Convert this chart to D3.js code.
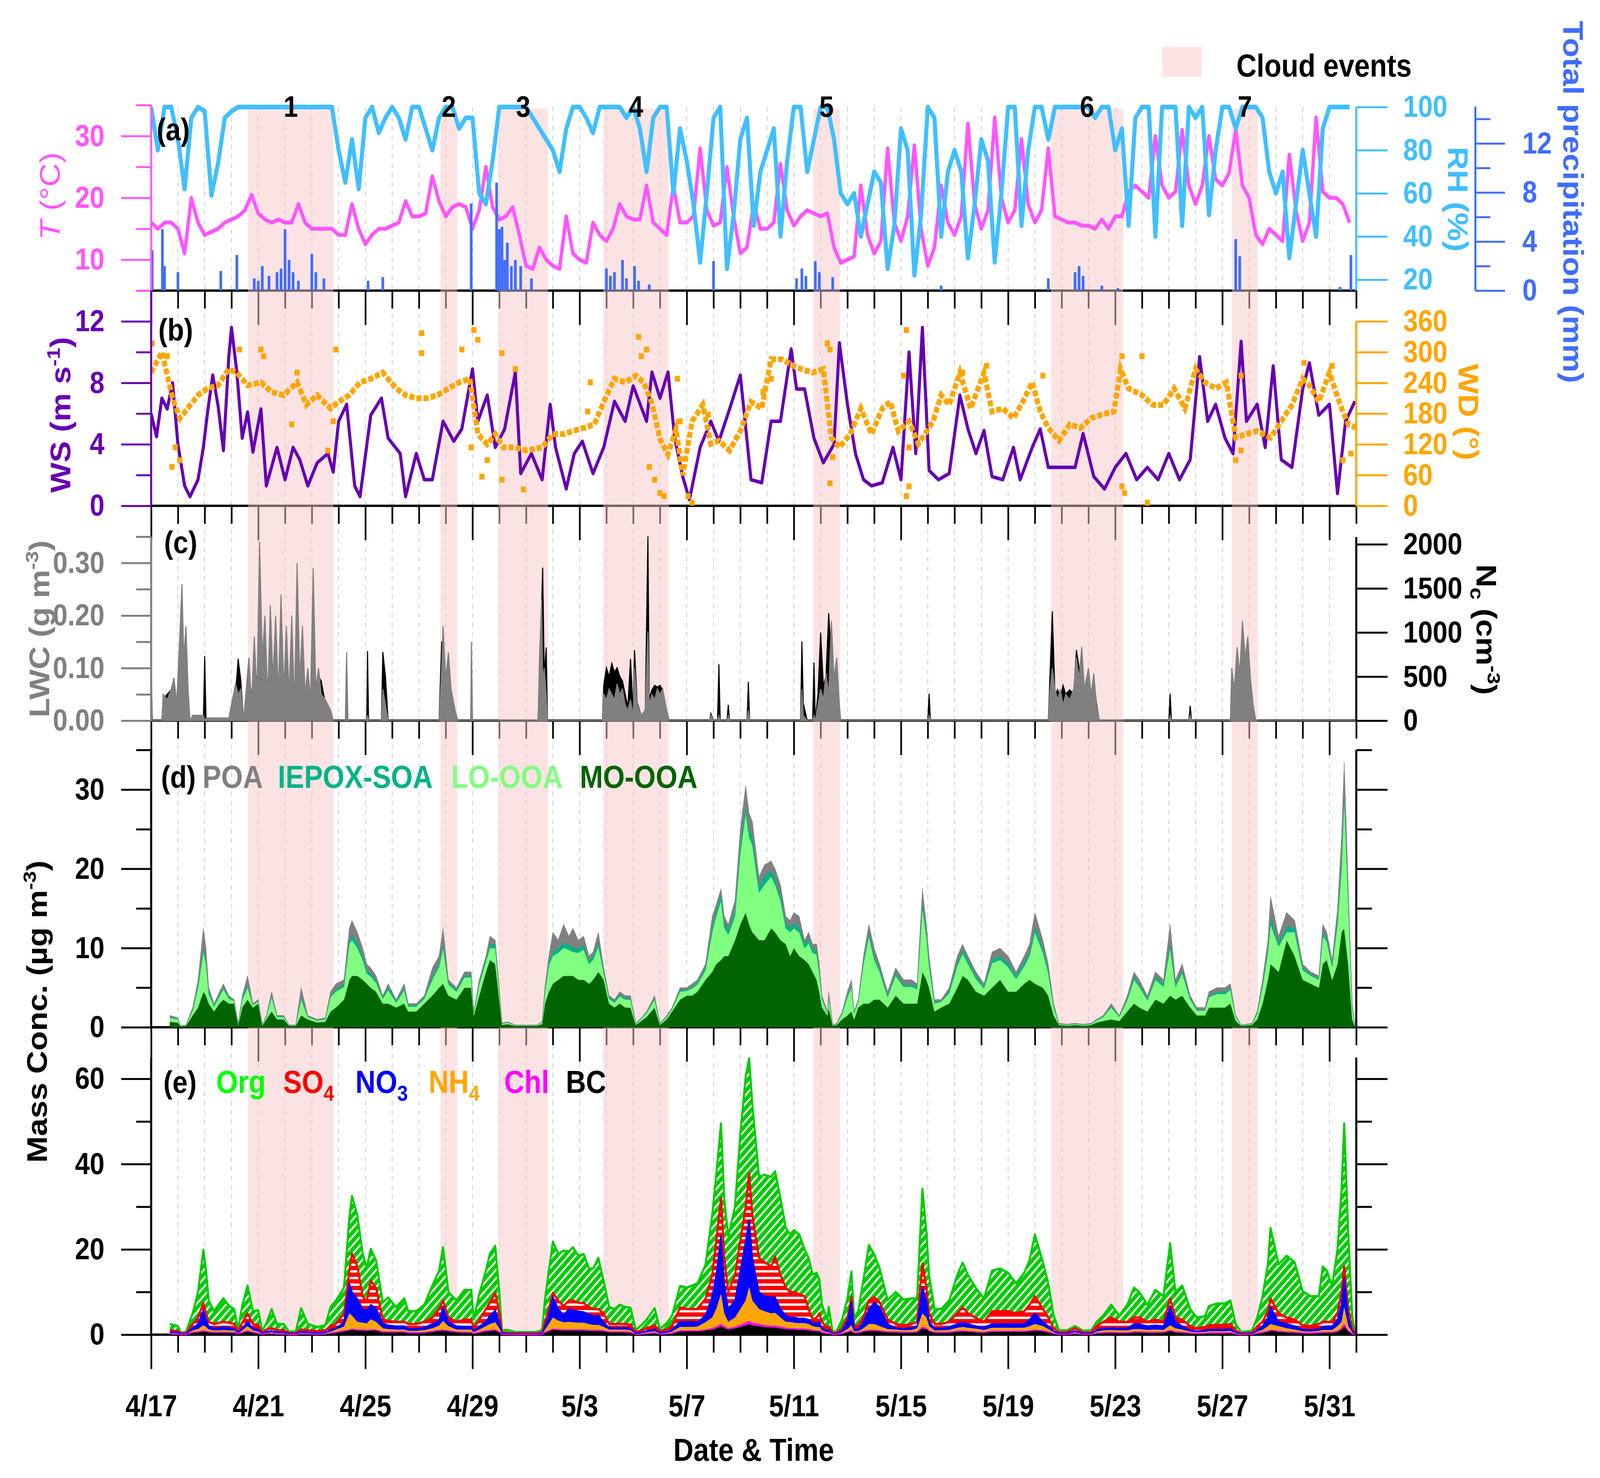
<!DOCTYPE html>
<html><head><meta charset="utf-8">
<script src="https://cdn.jsdelivr.net/npm/d3@7"></script>
<style>html,body{margin:0;padding:0;background:#fff;width:100%;height:100%;overflow:hidden} svg{display:block;width:100vw;height:100vh}</style>
</head><body><svg id="c" viewBox="0 0 4700 3784" preserveAspectRatio="none"></svg>
<script>
// ---------------- DATA ----------------
const dateLabels = ["4/17","4/21","4/25","4/29","5/3","5/7","5/11","5/15","5/19","5/23","5/27","5/31"];
const majorDays = [0,4,8,12,16,20,24,28,32,36,40,44];
const eventStart = [3.62,10.80,12.97,16.88,24.72,33.60,40.35];
const eventEnd   = [6.81,11.43,14.82,19.33,25.72,36.30,41.33];
const eventLabel = ["1","2","3","4","5","6","7"];

// panel a: 6-hourly temperature (°C) and RH (%)
const tempC = [
16,15,16,16, 15,11,20,16, 14,14.5,15,16, 16.5,17,18,20.5, 17.5,16.5,16,16.5,
16,16,19,16, 15,15,15,15, 14,14,19,15, 12.5,14,15,15, 15.5,16,19.5,17,
17,17.5,23.5,19.5, 17,18.5,19,18.5, 15,18,25,18.5, 16.5,17,18.5,14, 9,8.5,12,10,
9,8.5,17,11, 10,9.5,16,14, 13,15,19,17, 16.5,16.5,22,16, 15,14,22,16,
16,17,28,18, 15.5,16,25,17, 11,12,19,15, 15,16,25.5,18, 15.5,17,18,17.5,
17,17.5,12,9.5, 10,10.5,22,14, 11,13,28,16, 13,17,28.5,15, 9,12,22,16,
14,17,32,19, 15,18,33,20, 16,18,29.5,19, 16,18,28,17, 16.5,16,16,15.5,
15.5,15,16.5,15, 17,17,21,22, 21,20,30,22, 20,21,31,22, 19,22,30,23,
22,24,31,22, 20,14,12.5,15, 14,13,27,18, 13,16,33,21, 20,20,19,16];
const rhPct = [
100,80,100,100, 85,62,95,100, 98,59,74,95, 98,100,100,100, 100,100,100,100,
100,100,100,100, 100,100,100,100, 80,65,85,62, 95,100,88,95, 100,95,85,100,
100,90,80,95, 100,100,90,95, 95,60,55,75, 100,100,100,100, 100,95,90,85,
80,70,90,100, 100,95,88,100, 100,100,100,95, 100,90,70,95, 100,100,60,90,
75,55,28,60, 95,100,25,50, 85,95,45,70, 80,90,40,75, 100,100,70,85,
100,100,85,60, 55,60,40,55, 70,65,25,45, 90,80,22,50, 100,95,40,70,
80,70,30,55, 85,75,28,60, 100,100,45,80, 100,100,85,100, 100,100,100,100,
100,95,100,100, 80,90,45,95, 100,100,40,100, 100,100,45,100, 95,100,50,80,
100,100,90,100, 100,100,95,70, 60,70,30,55, 80,60,40,90, 100,100,100,100];
const precipDay = [0.04,0.42,0.5,1.0,2.6,3.2,3.85,4.0,4.15,4.4,4.7,4.85,5.0,5.15,5.3,5.5,6.0,6.15,6.45,8.1,8.65,11.95,12.9,13.0,13.1,13.2,13.3,13.45,13.6,13.8,14.2,17.0,17.15,17.3,17.6,17.75,18.05,18.2,18.6,21.0,24.1,24.3,24.45,24.8,24.95,25.45,29.5,33.5,34.5,34.65,34.8,35.5,36.1,40.5,40.65,44.4,44.8];
const precipMM  = [3.3,5.0,2,1.5,1.6,2.9,1,0.8,2,1.2,1.5,1.8,5.0,2.5,1.5,0.8,3,1.5,1,0.8,1.1,7.1,8.8,5,5.2,2.5,3.9,2,2.5,2,1,1.8,1.2,1.5,2.5,1,2,0.8,0.5,2.4,1,1.8,1.2,2.4,1.5,1.1,0.4,1,1.5,2,1.2,0.4,0.2,4.2,2.8,0.3,2.9];

// panel b: wind speed (m/s) and wind direction (deg)
const wsDay = [0,0.2,0.4,0.6,0.8,1.0,1.25,1.45,1.75,1.95,2.1,2.3,2.5,2.7,2.9,3.0,3.2,3.4,3.6,3.8,4.1,4.3,4.7,5.0,5.3,5.55,5.85,6.2,6.6,6.8,7.0,7.3,7.6,7.8,8.2,8.6,8.85,9.3,9.5,9.9,10.2,10.5,10.9,11.3,11.6,12.0,12.2,12.55,12.85,13.2,13.6,13.8,14.2,14.6,14.9,15.1,15.5,15.8,16.1,16.5,16.9,17.3,17.7,18.0,18.5,18.7,19.0,19.3,19.55,19.85,20.1,20.5,20.9,21.2,21.6,22.0,22.4,22.8,23.15,23.5,23.9,24.1,24.4,24.75,25.1,25.5,25.7,26.0,26.3,26.6,26.9,27.3,27.7,28.0,28.3,28.55,28.8,29.05,29.4,29.8,30.2,30.5,30.8,31.1,31.4,31.8,32.2,32.45,32.9,33.2,33.5,33.9,34.5,34.8,35.2,35.6,36.0,36.4,36.8,37.2,37.6,38.0,38.4,38.8,39.15,39.45,39.75,40.1,40.4,40.7,40.9,41.3,41.6,41.9,42.2,42.6,43.0,43.25,43.6,44.0,44.3,44.6,44.95];
const wsVal = [6,4.5,7,6.3,8,4,1.3,0.6,1.7,3.8,6,8.5,6.5,3.6,9.7,11.6,8.7,4.4,6.1,3.5,6.3,1.3,3.8,1.7,3.8,3,1.3,2.8,3.4,2.2,5.5,6.6,1.3,0.6,5.9,7,4.4,3.4,0.6,3.4,1.7,1.7,5.5,4.2,5,8.9,5.5,7.2,3.8,5,8.7,2.1,3.4,1.7,6.6,3.8,1.1,3.4,4.2,2.1,3.8,6.8,5.5,7.8,5.5,8.7,7,8.7,4.4,1.9,0.4,3.8,5.5,4.2,6.3,8.5,1.7,1.5,5.5,5.5,10.2,7.6,7.6,4.4,2.8,4,10.6,6.6,3.4,1.7,1.3,1.5,3.8,1.7,10,3.4,11.6,2.3,1.7,2.1,7.2,5,3.4,4.9,1.9,1.7,3.8,1.7,3.8,5,2.5,2.5,2.5,4.7,1.9,1.1,2.5,3.4,1.7,2.5,1.7,3.4,1.7,3,9.7,5.5,6.6,4.4,3.4,10.7,5.5,6.6,3.8,9.1,3,2.5,7.6,9.3,5.9,6.6,0.8,5.5,6.8];
const wdDay = [0,0.4,0.8,1.07,1.36,1.75,2.1,2.5,2.9,3.2,3.6,4.1,4.5,4.95,5.45,5.8,6.2,6.7,7.0,7.4,7.8,8.2,8.65,9.15,9.5,9.9,10.3,10.7,11.1,11.5,11.9,12.2,12.55,12.85,13.15,13.6,14.0,14.6,15.0,15.4,15.75,16.15,16.55,16.9,17.3,17.7,18.1,18.4,18.7,19.0,19.3,19.6,19.85,20.2,20.6,20.9,21.2,21.6,22.0,22.4,22.8,23.15,23.55,24.1,24.7,25.1,25.4,25.7,26.1,26.5,26.9,27.3,27.6,27.9,28.3,28.65,29.2,29.5,29.8,30.2,30.6,31.1,31.4,31.8,32.2,32.55,32.9,33.2,33.5,33.9,34.3,34.7,35.1,35.5,35.95,36.2,36.5,37.0,37.4,37.8,38.2,38.6,39.0,39.35,39.75,40.15,40.5,40.9,41.3,41.8,42.2,42.6,43.0,43.25,43.6,44.0,44.4,44.7,45.0];
const wdVal = [260,300,210,171,190,216,229,235,267,260,235,241,222,216,241,197,216,190,203,216,241,248,260,229,216,210,210,216,229,241,248,140,120,140,114,114,108,114,140,140,146,152,159,203,248,241,254,240,200,130,100,150,60,165,197,121,127,108,146,203,190,286,286,270,260,267,133,114,140,190,140,190,203,146,165,121,165,216,197,260,190,260,184,190,171,203,241,184,152,127,159,152,171,178,184,267,229,216,197,197,229,190,267,241,229,241,133,140,146,133,165,197,248,235,203,260,197,159,152];
const wdOutDay = [0.04,0.6,0.9,1.07,0.78,3.3,4.1,4.2,5.25,5.45,6.9,6.8,6.6,10.1,10.1,11.6,12.05,12.2,11.95,12.35,12.55,13.1,13.1,13.6,13.9,16.3,16.4,18.2,18.3,18.5,18.6,18.8,19.0,19.15,19.65,19.75,20.05,20.2,20.8,22.85,23.15,25.25,25.35,25.45,25.35,28.2,28.1,28.2,28.3,28.3,30.3,31.2,33.3,36.25,36.25,36.35,37.0,37.2,40.7,40.5,40.7,43.05,44.1,44.5,44.8];
const wdOutVal = [317,292,114,89,76,305,305,292,159,260,305,165,108,337,298,305,343,324,114,57,89,298,51,267,32,184,241,330,292,305,76,51,25,19,248,165,19,6,178,222,248,317,305,95,44,343,254,19,38,114,260,273,254,292,38,25,292,6,254,89,108,279,273,89,102];

// panel c: liquid water content (g/m3) and droplet number (cm-3)
const cDay = [0.00,0.05,0.40,0.45,0.60,0.75,0.85,0.95,1.05,1.15,1.22,1.30,1.38,1.45,1.55,1.95,2.00,2.05,2.50,2.90,3.15,3.25,3.35,3.45,3.65,3.75,3.85,3.95,4.05,4.15,4.25,4.35,4.45,4.55,4.65,4.75,4.85,4.95,5.05,5.15,5.25,5.35,5.45,5.55,5.65,5.75,5.85,5.95,6.05,6.15,6.25,6.35,6.50,6.70,6.80,7.25,7.30,7.35,8.05,8.08,8.12,8.60,8.65,8.75,8.85,10.75,10.85,10.90,11.00,11.10,11.20,11.35,11.45,11.93,11.96,12.00,14.45,14.50,14.58,14.62,14.68,14.75,14.80,16.85,16.90,17.00,17.10,17.20,17.30,17.40,17.50,17.60,17.70,17.80,17.90,18.00,18.05,18.15,18.30,18.45,18.55,18.60,18.70,18.80,18.90,19.00,19.10,19.25,19.35,20.85,20.90,21.00,21.15,21.20,21.25,21.50,21.55,21.60,22.25,22.30,22.35,24.25,24.30,24.35,24.50,24.70,24.75,24.80,24.90,25.00,25.10,25.20,25.30,25.40,25.50,25.60,25.70,25.75,29.00,29.05,29.10,33.50,33.55,33.65,33.75,33.85,33.95,34.05,34.15,34.30,34.45,34.55,34.65,34.75,34.85,35.00,35.10,35.20,35.30,35.40,38.00,38.05,38.10,38.75,38.80,38.85,40.30,40.35,40.45,40.55,40.65,40.75,40.85,40.95,41.05,41.15,41.25,45.00];
const lwcVal = [.10,0,0,.05,.04,.06,.08,.03,.14,.26,.12,.18,.06,0,.01,.01,0,.005,.005,.005,.07,.05,.06,0,.12,.03,.16,.05,.34,.12,.20,.04,.22,.08,.20,.05,.24,.06,.18,.05,.20,.03,.30,.08,.18,.05,.10,.04,.29,.06,.10,.05,.04,.02,0,0,.13,0,0,.01,0,0,.06,.03,0,0,.10,.18,.08,.13,.06,.02,0,0,.15,0,0,.12,.23,.08,.10,.05,0,0,.05,.04,.06,.05,.04,.07,.05,.06,.03,.02,.04,.01,.10,.03,.01,.02,.17,.03,.05,.04,.06,.05,.06,.02,0,0,.01,0,0,.01,0,0,.01,0,0,.02,0,0,.06,.01,0,0,.01,0,.03,.06,.04,.09,.05,.19,.08,.12,.03,0,0,.01,0,0,.05,.10,.06,.04,.06,.03,.05,.04,.06,.12,.08,.14,.06,.10,.05,.09,.03,0,0,.01,0,0,.01,0,0,.10,.06,.14,.09,.19,.12,.16,.08,.03,0,0];
const ncVal = [300,0,0,250,300,350,480,200,300,400,200,250,300,0,20,20,730,20,10,10,300,700,450,0,500,300,420,500,350,600,300,450,550,300,350,400,300,500,350,300,350,250,300,420,250,380,250,300,400,350,500,450,200,100,0,0,200,0,0,790,0,0,780,500,0,0,900,500,350,500,300,100,0,0,200,0,0,600,1300,1735,500,830,0,0,400,600,500,650,550,600,500,450,300,150,700,100,800,200,60,100,2090,250,350,400,380,400,350,100,0,0,80,0,0,640,0,0,180,0,0,440,0,0,900,200,0,0,660,0,300,1000,400,500,1220,700,500,400,150,0,0,305,0,0,400,1240,300,350,250,400,300,350,300,800,600,500,350,400,300,450,200,0,0,305,0,0,170,0,0,500,400,300,500,350,450,300,300,150,0,0];

// panels d & e: common time base (days since 4/17 00:00)
const aerDay = [0.70,1.00,1.10,1.30,1.55,1.75,1.95,2.05,2.15,2.35,
 2.55,2.70,2.90,3.10,3.25,3.40,3.60,3.80,4.00,4.15,
 4.30,4.50,4.70,4.95,5.15,5.40,5.60,5.85,6.20,6.50,
 6.70,6.90,7.20,7.40,7.50,7.70,7.90,8.05,8.20,8.40,
 8.65,8.85,9.15,9.45,9.60,9.90,10.20,10.50,10.75,10.90,
 11.10,11.40,11.70,11.95,12.05,12.25,12.50,12.65,12.85,13.00,
 13.10,13.30,13.60,14.00,14.40,14.60,14.70,14.85,15.00,15.20,
 15.40,15.60,15.75,15.95,16.15,16.35,16.50,16.70,16.90,17.10,
 17.30,17.50,17.70,17.90,18.10,18.30,18.50,18.80,19.00,19.25,
 19.45,19.75,20.00,20.20,20.40,20.70,20.95,21.10,21.28,21.40,
 21.55,21.80,22.00,22.20,22.33,22.45,22.70,22.90,23.15,23.30,
 23.50,23.70,23.86,24.00,24.20,24.40,24.55,24.70,24.85,24.95,
 25.05,25.25,25.30,25.45,25.60,25.80,26.00,26.15,26.25,26.40,
 26.60,26.80,27.00,27.20,27.50,27.80,28.10,28.40,28.60,28.80,
 28.95,29.05,29.25,29.50,29.80,30.10,30.30,30.50,30.80,31.10,
 31.40,31.70,32.00,32.30,32.60,32.80,33.00,33.30,33.50,33.70,
 33.90,34.20,34.50,34.80,35.10,35.30,35.55,35.85,36.15,36.45,
 36.70,36.90,37.20,37.50,37.80,38.05,38.25,38.50,38.80,39.05,
 39.35,39.50,39.80,40.10,40.30,40.50,40.70,41.10,41.30,41.50,
 41.70,41.80,42.10,42.40,42.70,43.00,43.30,43.60,43.75,43.90,
 44.10,44.30,44.45,44.55,44.70,44.85,44.95];
// (d) OA factors, µg/m3
const moOOA = [.7,.6,.1,.2,1.5,2.5,4.5,4,3,2, 3,3.5,3,3,.3,2.5,3.5,2.5,3,.2, 1,2,1,1,.2,.2,1.5,1,.6,.7, 2,2.5,3.5,6,6.5,6.5,6,5.5,5,4.5, 3,3,2.5,3,2,2,3,4,5,5.5, 4,3.5,5,5,1.5,4,7,8.5,8,3.5, .3,.4,.2,.2,.2,.4,3,4.5,5.5,6, 6.5,6.5,6.5,6,6,5.5,6,7,6,3, 2.5,3,2.5,2.5,.3,.8,1.3,2.5,.3,1, 2,3.5,4,4,4.5,6,7,8,8.5,9, 9,11,13,14.5,13,12,11,11,12.5,12, 11,10.5,9,10,9,8.5,8,7,6,4.5, 2.5,1.5,2.5,.2,.3,1,1.5,2,1,2.5, 3,3,3.5,3.5,2.5,4,3,3,3,7, 6,5,2,2.5,3,5,6.5,6,4.5,4, 5,6,4.5,4.5,5.5,6,5.5,5,4,1.5, .3,.2,.3,.2,.3,.6,.8,1,.8,2, 3,2.5,2,3.5,3,4,3.5,4,2.5,1.5, 1.5,2.5,2.5,2.5,3,.8,.2,.3,1,3, 6,8,7,11,9,6,5.5,5,8,8.5, 6,8,12,12.5,8,1,.1];
const loOOA = [.5,.4,0,.05,.6,2.5,5,4,1.2,.6, .9,1.3,.6,.3,.1,1,1.5,.3,.3,.05, .3,1.8,.3,.3,.05,.05,2,.3,.25,.3, 1.8,2,1.6,4.5,4.5,3.5,2.5,1.3,1.4,1.1, .6,1.7,.6,1.7,.6,.6,.6,2,2.6,4.5, 1.4,1,1.3,1.3,.3,1.4,1.3,1.5,2,1, .1,.2,.05,.05,.05,.2,1.3,3.3,3.5,3.4, 3.5,3.3,3,3.4,3.8,2.5,2.5,3.2,.8,.6, .6,.9,1,1,.1,.3,.5,1,.1,.3, .3,1,.6,.9,.9,1.2,5,6,7.5,3.6, 2.7,3,9,12.5,11,11,6,7,6.5,6, 5,2,3,2.5,3,1.5,2.6,2.4,3.2,2.3, 1,.3,1.3,.05,.1,.7,2.3,3,.7,.7, 5,8.5,5,3.5,1.3,2.5,2.1,2.1,1.8,8, 5.4,2.7,1,.7,1.3,2.7,2.8,2,1.6,.9, 3.1,2.5,3.1,1.6,2.2,3,6.5,4.4,2.8,1, .1,.1,.1,.1,.1,.25,.5,1.5,.5,1.4, 3,2.6,1.4,2.5,2.1,6,1.6,2.8,1,.6, .6,1.3,1.7,1.7,1.7,.5,.05,.1,.7,2.1, 3.4,5,3.2,1,3,1.2,1,1,3.5,2.3, 1.6,5,8,16.5,8,1.5,.1];
const iepoxSOA = [.1,.1,.05,.02,.1,.3,.5,.4,.3,.15, .2,.2,.2,.1,.05,.2,.3,.1,.1,.02, .1,.2,.1,.1,.02,.02,.3,.1,.05,.1, .2,.3,.3,.6,.7,.6,.5,.4,.4,.3, .2,.3,.2,.3,.15,.15,.2,.4,.5,.6, .3,.2,.3,.3,.1,.3,.3,.5,.5,.2, .05,.05,.02,.02,.02,.05,.3,.5,.6,.6, .7,.6,.6,.5,.6,.4,.5,.6,.3,.2, .2,.2,.2,.2,.05,.05,.1,.2,.05,.1, .1,.2,.2,.2,.3,.4,.7,.8,.9,.7, .6,.8,1.2,1,1,1,.8,1,.8,.8, .7,.6,.6,.7,.7,.5,.6,.5,.5,.4, .2,.1,.2,.02,.05,.1,.2,.3,.1,.1, .4,.6,.5,.4,.2,.4,.3,.3,.3,.9, .6,.5,.2,.1,.3,.5,.5,.5,.4,.3, .5,.5,.5,.4,.5,.5,.8,.6,.4,.2, .05,.05,.05,.05,.05,.05,.1,.2,.1,.2, .4,.3,.2,.4,.3,.7,.3,.4,.2,.1, .1,.2,.3,.3,.3,.1,.02,.05,.1,.3, .6,1,.5,.7,.6,.3,.2,.2,.5,.4, .3,.7,1.2,1,.8,.2,.05];
const primaryOA = [.2,.1,.05,.03,.3,.7,2.5,1.6,.5,.25, .4,.5,.2,.1,.05,.3,1.2,.1,.1,.03, .1,.5,.1,.1,.03,.03,1.2,.1,.1,.1, .5,.7,.6,1.4,1.8,1.4,1,.8,.7,.6, .2,.5,.2,.5,.25,.25,.2,1.1,.9,1.9, .3,.3,.4,.4,.1,.3,.4,1,.5,.3, .05,.05,.03,.03,.03,.05,.4,.7,2.4,1, 2.3,1.1,2.4,1.1,1.1,.6,.5,1.2,.4,.2, .2,.4,.3,.3,.05,.05,.1,.3,.05,.1, .1,.3,.2,.4,.3,.4,1.3,.7,.6,.7, .7,1.2,1.8,2.5,2,2,1.2,1.5,1.2,1.2, 1.3,.9,.9,1.3,1.3,.5,.8,.6,.8,.8, .3,.1,.5,.03,.05,.2,.5,.7,.2,.2, .6,.9,1,.6,.5,.6,.6,.6,.4,1.6, 1,.8,.3,.2,.4,.8,.7,.5,.5,.3, .9,1,.9,.5,.8,1,1.7,1,.8,.3, .05,.05,.05,.05,.05,.1,.1,.3,.1,.4, .6,.6,.4,.6,.6,2.3,.6,.8,.3,.3, .3,.5,.5,.5,.5,.1,.03,.05,.2,.6, 1,2.5,.8,1.8,.9,.5,.3,.3,1,.8, .6,1.3,2.8,3.5,1.2,.3,.05];
// (e) NR-PM1 species + BC, µg/m3
const orgVals = [1.5,1.2,.2,.3,2.5,6,12.5,10,5,3, 4.5,5.5,4,3.5,.5,4,6.5,3,3.5,.3, 1.5,4.5,1.5,1.5,.3,.3,5,1.5,1,1.2, 4.5,5.5,6,12.5,13.5,12,10,8,7.5,6.5, 4,5.5,3.5,5.5,3,3,4,7.5,9,12.5, 6,5,7,7,2,6,9,11.5,11,5, .5,.7,.3,.3,.3,.7,5,9,12,11, 13,11.5,12.5,11,11.5,9,9.5,12,7.5,4, 3.5,4.5,4,4,.5,1.2,2,4,.5,1.5, 2.5,5,5,5.5,6,8,14,15.5,17.5,14, 13,16,25,30.5,27,26,19,20.5,21,20, 18,14,13.5,14.5,14,11,12,10.5,10.5,8, 4,2,4.5,.3,.5,2,4.5,6,2,3.5, 9,13,10,8,4.5,7.5,6,6,5.5,17.5, 13,9,3.5,3.5,5,9,10.5,9,7,5.5, 9.5,10,9,7,9,10.5,14.5,11,8,3, .5,.4,.5,.4,.5,1,1.5,3,1.5,4, 7,6,4,7,6,13,6,8,4,2.5, 2.5,4.5,5,5,5.5,1.5,.3,.5,2,6, 11,16.5,11.5,14.5,13.5,8,7,6.5,13,12, 8.5,15,24,33.5,18,3,.3];
const so4Vals = [.4,.3,.15,.15,1,1.5,1.7,1.5,1,1, 1.2,1.2,1.2,1.1,.3,1.3,2,1,1,.2, .5,.65,.45,.45,.2,.2,.5,.45,.4,.45, .9,1,2.1,3,9,7.6,3,2,5.6,4.7, 1,1,1,1,1.1,1.1,1.35,1.5,2.7,1.6, 1,1,1.6,1.6,.65,1.6,3,3,4.1,2, .2,.15,.15,.15,.15,.2,1.1,1.5,1,2, 2.1,2,2.3,2,2.1,1.7,1.7,1.5,2.1,.9, .9,.9,.9,.85,.3,.45,.65,.95,.35,.5, .9,3.4,3,3,3.1,3.9,5,8,8.7,6, 4,6,7,8,10.8,10,8,8,7.2,9.5, 8,6.5,6,6,5.7,5.2,2.5,.8,1.5,2, 1.5,.65,.9,.15,.15,.65,1,1,.8,.7, 1,2,1.3,1.1,1.1,1,.8,.9,1,5.5, 3,2,1,1,1.2,2.5,3.6,2.5,1.9,1.3, 3,3,3,2.5,3,3.5,4,3,2,.7, .2,.3,.65,.2,.2,1,1.5,2.5,1.5,1.5, 1.5,1.5,1,1.3,1,1.9,1,1.5,1,.7, .85,1,1.1,1.1,1.1,.45,.15,.15,1,1, 1.5,2,2,1.5,1.5,1,.9,1.2,1.2,1, 1,1.5,3,2.5,2,.65,.15];
const no3Vals = [.2,.2,.05,.05,.5,1.2,3.5,1.7,.8,.5, .6,.7,.6,.4,.2,.5,1,.5,.45,.1, .25,.3,.2,.2,.05,.05,.25,.2,.15,.2, .4,.3,1,7,5.5,5.4,3.2,3.1,3.4,3.2, 1.1,.9,.8,.8,.5,.5,.6,1,1.2,3.2, 1,.8,.7,.7,.3,.7,1,2,2.8,1.5, .1,.05,.05,.05,.05,.1,.7,2,4.8,2.7, 1.7,3,2.8,2.7,2.5,2.3,2,2.2,1.1,.4, .4,.4,.4,.4,.1,.2,.3,.45,.15,.25, .4,1.2,1.2,1.2,1,1.6,5,8,13.7,7, 3,4,9,14,15.8,10,4,3.5,3.8,3.7, 2,1.5,1,1.2,1.1,1.1,1,.8,.7,1.2, .5,.3,.4,.05,.05,.3,1.7,5.6,.4,.5, 1.5,3.5,5,4.5,1.2,.3,.4,.5,.5,6.2, 4,1,.5,.5,.7,.9,1,.9,.6,.6, .9,.9,.9,.9,.9,1.5,2.5,1,.7,.25, .1,.1,.3,.1,.1,.3,.5,.4,.5,.5, 1.2,1.2,.9,1,.9,4.3,1.5,.8,.3,.25, .3,.4,.4,.4,.5,.2,.05,.05,.3,.9, 2,4,1,1,.8,.4,.4,.4,.7,.9, .9,1.5,4,7,2,.3,.05];
const nh4Vals = [.2,.2,.05,.05,.45,.65,1.3,1,.55,.45, .45,.55,.45,.45,.1,.45,1.1,.45,.4,.1, .2,.3,.2,.2,.1,.1,.25,.2,.15,.2, .35,.65,1,3.9,3.2,1.9,1.7,1.6,2.5,1.9, .85,.65,.55,.55,.45,.45,.55,.75,1.1,2.1, 1.1,.55,.65,.65,.3,.65,1.1,1.5,1.8,.85, .1,.1,.05,.05,.05,.1,.55,1.6,2.7,2.1, 1.8,1.9,1.8,1.7,1.7,1.5,1.3,1.3,.9,.55, .55,.55,.55,.5,.1,.2,.3,.4,.15,.25, .35,.9,.9,.9,1,1.8,2.6,4.2,7.2,3.1, 1.6,2.3,3.8,5.3,8.1,5.3,3.6,3.4,3,3.1, 2.2,1.5,1.6,1.4,1.4,1.4,1.3,1,.9,.9, .45,.3,.35,.05,.1,.3,.65,1.3,.35,.35, .7,1.5,1.5,1.1,.65,.55,.45,.55,.85,3.3, 2.5,1.1,.45,.45,.55,.8,.9,.8,.75,.55, .8,.8,.8,.8,.8,1.1,1.4,1.1,.65,.3, .1,.1,.3,.1,.1,.35,.55,.55,.55,.55, .65,.65,.55,.65,.55,1.2,.85,.65,.35,.3, .35,.4,.4,.4,.45,.2,.05,.1,.35,.55, 1.2,1.4,1.2,.85,.65,.4,.35,.45,.55,.55, .55,1.2,1.6,4.1,1.1,.3,.05];
const chlVals = [0,0,0,0,.05,.05,.1,.1,.05,.05, .05,.05,.05,.05,0,.05,.1,.05,.05,0, .02,0,0,0,0,0,0,0,0,0, .05,.05,.1,.1,.1,.1,.1,.1,.1,.1, .05,.05,.05,.05,.05,.05,.05,.05,.1,.1, .1,.05,.05,.05,0,.05,.1,.1,.1,.05, 0,0,0,0,0,0,.05,.1,.1,.1, .1,.1,.1,.1,.1,.1,.1,.1,.1,.05, .05,.05,.05,.05,0,0,0,.05,0,0, .05,.1,.1,.1,.1,.1,.2,.3,.4,.3, .2,.2,.4,.5,.6,.5,.4,.3,.3,.3, .3,.2,.2,.2,.2,.2,.2,.1,.1,.1, .05,0,.05,0,0,0,.05,.1,.05,.05, .1,.1,.1,.1,.05,.05,.05,.05,.05,.2, .2,.1,.05,.05,.05,.1,.1,.1,.05,.05, .1,.1,.1,.1,.1,.1,.1,.1,.05,0, 0,0,0,0,0,.05,.05,.05,.05,.05, .05,.05,.05,.05,.05,.1,.05,.05,.05,0, 0,.05,.05,.05,.05,0,0,0,.05,.05, .1,.1,.1,.05,.05,.05,.05,.05,.05,.05, .05,.1,.2,.4,.1,0,0];
const bcVals = [.2,.1,.05,.05,.5,.6,.8,.7,.6,.5, .5,.5,.5,.5,.2,.5,.8,.5,.3,.1, .2,.25,.15,.15,.05,.05,.2,.15,.1,.15, .3,.5,.8,1,1.2,1,1,.9,1,1, .6,.6,.6,.6,.4,.4,.45,.7,.9,1, .8,.6,.5,.5,.25,.5,.8,.9,1,.6, .1,.1,.05,.05,.05,.1,.5,.8,1.2,1.1, 1,1,1,1,1,.9,.9,.9,.8,.6, .6,.6,.6,.5,.1,.15,.25,.35,.15,.2, .3,.8,.8,.8,.8,1,1.2,1.5,2,1.6, 1.2,1.5,1.8,2.2,2.5,2.2,2,1.8,1.7,1.7, 1.5,1.3,1.2,1.2,1.1,1.1,1,.9,.8,.8, .5,.25,.3,.05,.1,.25,.6,.8,.4,.4, .7,.9,.9,.8,.6,.6,.5,.5,.6,1.5, 1.3,.8,.5,.5,.5,.7,.8,.7,.6,.5, .7,.7,.7,.7,.7,.8,1,.8,.6,.25, .1,.1,.25,.1,.1,.3,.4,.5,.4,.4, .6,.6,.5,.5,.5,.9,.6,.5,.3,.25, .3,.35,.35,.35,.4,.15,.05,.1,.3,.5, .7,1,.7,.6,.5,.35,.3,.4,.5,.5, .5,.7,1.2,2,.8,.25,.05];

// ---------------- DRAWING ----------------
const FONT = '"Liberation Sans", Arial, Helvetica, sans-serif';
const cT='#ff55ff', cRH='#40bfff', cP='#3f6dff', cWS='#6600b3', cWD='#ffa500', cLWC='#808080';
const svg = d3.select('#c');
svg.append('rect').attr('width',4700).attr('height',3784).attr('fill','#fff');
const L = 444, R = 3984;
const x = d3.scaleLinear().domain([0,45]).range([L,R]);
const panelBottom = [744,1295,1845,2630,3417];

const yT = d3.scaleLinear().domain([5,35]).range([744,269]);
const yRH = d3.scaleLinear().domain([20,100]).range([716,274]);
const yP = d3.scaleLinear().domain([0,15]).range([744,273]);
const yWS = d3.scaleLinear().domain([0,14]).range([1295,744]);
const yWD = d3.scaleLinear().domain([0,420]).range([1295,744]);
const yLWC = d3.scaleLinear().domain([0,0.408]).range([1845,1296]);
const yNc = d3.scaleLinear().domain([0,2432]).range([1845,1296]);
const yD = d3.scaleLinear().domain([0,38.7]).range([2630,1845]);
const yE = d3.scaleLinear().domain([0,72]).range([3417,2631]);

const defs = svg.append('defs');
const pOrg = defs.append('pattern').attr('id','hOrg').attr('patternUnits','userSpaceOnUse').attr('width',22).attr('height',22);
pOrg.append('rect').attr('width',22).attr('height',22).attr('fill','#00cc00');
pOrg.append('path').attr('d','M-6,6 L6,-6 M0,22 L22,0 M16,28 L28,16').attr('stroke','#fff').attr('stroke-width',5);
const pSO4 = defs.append('pattern').attr('id','hSO4').attr('patternUnits','userSpaceOnUse').attr('width',20).attr('height',17);
pSO4.append('rect').attr('width',20).attr('height',17).attr('fill','#ff0000');
pSO4.append('rect').attr('y',5).attr('width',20).attr('height',6).attr('fill','#fff');
defs.append('clipPath').attr('id','clipX').append('rect').attr('x',L).attr('y',200).attr('width',R-L).attr('height',3300);

// gridlines every day
svg.append('g').selectAll('line').data(d3.range(1,45)).join('line')
  .attr('x1',d=>x(d)).attr('x2',d=>x(d)).attr('y1',274).attr('y2',3417)
  .attr('stroke','#c4c4c4').attr('stroke-width',2).attr('stroke-dasharray','12,12');

// bottom (time) axes for every panel
const minorDays = d3.range(0,46).filter(d=>d%4!==0);
panelBottom.forEach((yb,k)=>{
  const last = k===panelBottom.length-1;
  const gM = svg.append('g').attr('transform',`translate(0,${yb})`)
    .call(d3.axisBottom(x).tickValues(majorDays).tickSize(88).tickPadding(66)
      .tickFormat((d,i)=> last ? dateLabels[i] : ''));
  const gm = svg.append('g').attr('transform',`translate(0,${yb})`)
    .call(d3.axisBottom(x).tickValues(minorDays).tickSize(46).tickFormat(()=>''));
  [gM,gm].forEach(g=>{ g.select('.domain').remove(); g.attr('color','#000')
    .attr('font-size',78).attr('font-family',FONT).attr('font-weight','bold');
    g.selectAll('line').attr('stroke-width',5); });
  svg.append('line').attr('x1',L).attr('x2',R).attr('y1',yb).attr('y2',yb).attr('stroke','#000').attr('stroke-width',6);
});

// cloud event shading
svg.append('g').selectAll('rect').data(eventStart).join('rect')
  .attr('x',(d)=>x(d)).attr('width',(d,i)=>x(eventEnd[i])-x(d))
  .attr('y',278).attr('height',3417-278)
  .attr('fill','rgb(250,200,200)').attr('fill-opacity',0.5);

const data = svg.append('g').attr('clip-path','url(#clipX)');

// ---- panel a
data.append('path').datum(tempC)
  .attr('d', d3.line().x((d,i)=>x(i/4)).y(d=>yT(d)))
  .attr('fill','none').attr('stroke',cT).attr('stroke-width',10).attr('stroke-linejoin','round');
data.append('path').datum(rhPct)
  .attr('d', d3.line().x((d,i)=>x(i/4)).y(d=>yRH(d)))
  .attr('fill','none').attr('stroke',cRH).attr('stroke-width',12).attr('stroke-linejoin','round');
data.append('g').selectAll('rect').data(precipDay).join('rect')
  .attr('x',d=>x(d-0.05)).attr('width',x(0.1)-x(0))
  .attr('y',(d,i)=>yP(precipMM[i])).attr('height',(d,i)=>yP(0)-yP(precipMM[i]))
  .attr('fill',cP);

// ---- panel b
data.append('path').datum(wsVal)
  .attr('d', d3.line().x((d,i)=>x(wsDay[i])).y(d=>yWS(d)))
  .attr('fill','none').attr('stroke',cWS).attr('stroke-width',9).attr('stroke-linejoin','round');
data.append('path').datum(wdVal)
  .attr('d', d3.line().x((d,i)=>x(wdDay[i])).y(d=>yWD(d)))
  .attr('fill','none').attr('stroke',cWD).attr('stroke-width',15).attr('stroke-dasharray','15,6');
data.append('g').selectAll('rect').data(wdOutDay).join('rect')
  .attr('x',d=>x(d)-7.5).attr('y',(d,i)=>yWD(wdOutVal[i])-7.5).attr('width',15).attr('height',15).attr('fill',cWD);

// ---- panel c
data.append('path').datum(ncVal)
  .attr('d', d3.area().x((d,i)=>x(cDay[i])).y0(yNc(0)).y1(d=>yNc(d)))
  .attr('fill','#000').attr('stroke','#000').attr('stroke-width',3);
data.append('path').datum(lwcVal)
  .attr('d', d3.area().x((d,i)=>x(cDay[i])).y0(yLWC(0)).y1(d=>yLWC(d)))
  .attr('fill',cLWC).attr('stroke',cLWC).attr('stroke-width',3);

// ---- panel d (stacked OA factors)
const rowsD = aerDay.map((d,i)=>({day:d, mo:moOOA[i], lo:loOOA[i], ie:iepoxSOA[i], poa:primaryOA[i]}));
const stD = d3.stack().keys(['mo','lo','ie','poa'])(rowsD);
const colD = {mo:'#006400', lo:'#80ff80', ie:'#00b386', poa:'#808080'};
const areaD = d3.area().x(d=>x(d.data.day)).y0(d=>yD(d[0])).y1(d=>yD(d[1]));
data.append('g').selectAll('path').data(stD).join('path')
  .attr('d',areaD).attr('fill',s=>colD[s.key]).attr('stroke',s=>colD[s.key]).attr('stroke-width',1);

// ---- panel e (stacked species)
const rowsE = aerDay.map((d,i)=>({day:d, bc:bcVals[i], chl:chlVals[i], nh4:nh4Vals[i], no3:no3Vals[i], so4:so4Vals[i], org:orgVals[i]}));
const stE = d3.stack().keys(['bc','chl','nh4','no3','so4','org'])(rowsE);
const colE = {bc:'#000000', chl:'#ff00ff', nh4:'#ffa500', no3:'#0000ff', so4:'url(#hSO4)', org:'url(#hOrg)'};
const areaE = d3.area().x(d=>x(d.data.day)).y0(d=>yE(d[0])).y1(d=>yE(d[1]));
data.append('g').selectAll('path').data(stE).join('path')
  .attr('d',areaE).attr('fill',s=>colE[s.key]);
const topLine = d3.line().x(d=>x(d.data.day)).y(d=>yE(d[1]));
data.append('path').datum(stE[5]).attr('d',topLine).attr('fill','none').attr('stroke','#00cc00').attr('stroke-width',6).attr('stroke-linejoin','round');
data.append('path').datum(stE[4]).attr('d',topLine).attr('fill','none').attr('stroke','#ff0000').attr('stroke-width',6).attr('stroke-linejoin','round');
data.append('path').datum(stE[3]).attr('d',topLine).attr('fill','none').attr('stroke','#0000ff').attr('stroke-width',4);
data.append('path').datum(stE[1]).attr('d',topLine).attr('fill','none').attr('stroke','#ff00ff').attr('stroke-width',3);

// ---------------- Y AXES ----------------
function yAxis(o){
  const gen = o.side==='left' ? d3.axisLeft : d3.axisRight;
  const g = svg.append('g').attr('transform',`translate(${o.x},0)`);
  g.call(gen(o.scale).tickValues(o.majors).tickSize(o.len||88).tickPadding(o.pad||49)
    .tickFormat(o.labels ? (o.fmt||d3.format('d')) : ()=>''));
  g.select('.domain').remove();
  if (o.minors){
    const gm = g.append('g').call(gen(o.scale).tickValues(o.minors).tickSize(o.mlen||44).tickFormat(()=>''));
    gm.select('.domain').remove();
  }
  g.attr('color',o.color).attr('font-size',78).attr('font-family',FONT).attr('font-weight','bold');
  g.selectAll('line').attr('stroke-width',5);
  g.append('line').attr('x1',0).attr('x2',0).attr('y1',o.scale(o.from)).attr('y2',o.scale(o.to))
    .attr('stroke',o.color).attr('stroke-width',6);
  return g;
}
yAxis({side:'left',x:L,scale:yT,majors:[10,20,30],minors:[5,15,25,35],color:cT,labels:true,from:5,to:35});
yAxis({side:'right',x:R,scale:yRH,majors:[20,40,60,80,100],color:cRH,labels:true,from:14.9,to:100,len:92,pad:46});
yAxis({side:'right',x:4334,scale:yP,majors:[0,4,8,12],minors:[2,6,10,14],color:cP,labels:true,from:0,to:15,len:87,pad:51});
yAxis({side:'left',x:L,scale:yWS,majors:[0,4,8,12],minors:[2,6,10],color:cWS,labels:true,from:0,to:14});
yAxis({side:'right',x:R,scale:yWD,majors:[0,60,120,180,240,300,360],color:cWD,labels:true,from:0,to:360,len:92,pad:46});
yAxis({side:'left',x:L,scale:yLWC,majors:[0,0.1,0.2,0.3],minors:[0.05,0.15,0.25,0.35],color:cLWC,labels:true,fmt:d3.format('.2f'),from:0,to:0.35});
yAxis({side:'right',x:R,scale:yNc,majors:[0,500,1000,1500,2000],color:'#000',labels:true,from:0,to:2082,len:92,pad:46});
yAxis({side:'left',x:L,scale:yD,majors:[0,10,20,30],minors:[5,15,25,35],color:'#000',labels:true,from:0,to:35});
yAxis({side:'right',x:R,scale:yD,majors:[0,10,20,30],minors:[5,15,25,35],color:'#000',labels:false,from:0,to:35,len:92,mlen:46});
yAxis({side:'left',x:L,scale:yE,majors:[0,20,40,60],minors:[10,30,50],color:'#000',labels:true,from:0,to:65});
yAxis({side:'right',x:R,scale:yE,majors:[0,20,40,60],minors:[10,30,50],color:'#000',labels:false,from:0,to:65,len:92,mlen:46});

// ---------------- TEXT ----------------
function txt(x0,y0,rot,color,size,parts,anchor,weight){
  const t = svg.append('text').attr('transform',`translate(${x0},${y0}) rotate(${rot})`)
    .attr('text-anchor',anchor||'middle').attr('fill',color).attr('font-size',size)
    .attr('font-family',FONT).attr('font-weight',weight||'bold');
  parts.forEach(p=>{
    const s = t.append('tspan').text(p.t);
    if(p.dy) s.attr('dy',p.dy);
    if(p.fs) s.attr('font-size',p.fs);
    if(p.it) s.attr('font-style','italic');
  });
  return t;
}
const sup = (s)=>[{t:s,dy:-32,fs:54},{t:')',dy:32}];
txt(175,502,-90,cT,84,[{t:'T',it:true},{t:' (°C)'}],'middle','normal');
txt(207,1062,-90,cWS,82,[{t:'WS (m s'}, ...sup('-1')]);
txt(145,1610,-90,cLWC,82,[{t:'LWC (g m'}, ...sup('-3')]);
txt(138,2590,-90,'#000',82,[{t:'Mass Conc. (µg m'}, ...sup('-3')]);
txt(4254,510,90,cRH,82,[{t:'RH (%)'}]);
txt(4592,517,90,cP,82,[{t:'Total precipitation (mm)'}]);
txt(4285,1055,90,cWD,82,[{t:'WD (°)'}]);
txt(4337,1612,90,'#000',82,[{t:'N'},{t:'c',dy:18,fs:56},{t:' (cm',dy:-18},{t:'-3',dy:-32,fs:54},{t:')',dy:32}]);
txt(2214,3740,0,'#000',82,[{t:'Date & Time'}]);

// panel tags
txt(460,359,0,'#000',80,[{t:'(a)'}],'start');
txt(465,872,0,'#000',80,[{t:'(b)'}],'start');
txt(482,1416,0,'#000',80,[{t:'(c)'}],'start');
txt(473,2017,0,'#000',80,[{t:'(d)'}],'start');
txt(480,2798,0,'#000',80,[{t:'(e)'}],'start');

// legends
const legD = [['POA','#808080',595],['IEPOX-SOA','#00b386',816],['LO-OOA','#80ff80',1325],['MO-OOA','#006400',1703]];
legD.forEach(l=>txt(l[2],2017,0,l[1],82,[{t:l[0]}],'start'));
txt(635,2798,0,'#00ff00',82,[{t:'Org'}],'start');
txt(832,2798,0,'#ff0000',82,[{t:'SO'},{t:'4',dy:20,fs:56}],'start');
txt(1044,2798,0,'#0000ff',82,[{t:'NO'},{t:'3',dy:20,fs:56}],'start');
txt(1259,2798,0,'#ffa500',82,[{t:'NH'},{t:'4',dy:20,fs:56}],'start');
txt(1481,2798,0,'#ff00ff',82,[{t:'Chl'}],'start');
txt(1662,2798,0,'#000',82,[{t:'BC'}],'start');

// cloud events legend + numbers
svg.append('rect').attr('x',3414).attr('y',120).attr('width',116).attr('height',77)
  .attr('fill','rgb(250,200,200)').attr('fill-opacity',0.5);
txt(3632,196,0,'#000',82,[{t:'Cloud events'}],'start');
svg.append('g').selectAll('text').data(eventLabel).join('text')
  .attr('x',(d,i)=>x((eventStart[i]+eventEnd[i])/2)).attr('y',299)
  .attr('text-anchor','middle').attr('font-size',76).attr('font-family',FONT).attr('font-weight','bold')
  .text(d=>d);
</script></body></html>
